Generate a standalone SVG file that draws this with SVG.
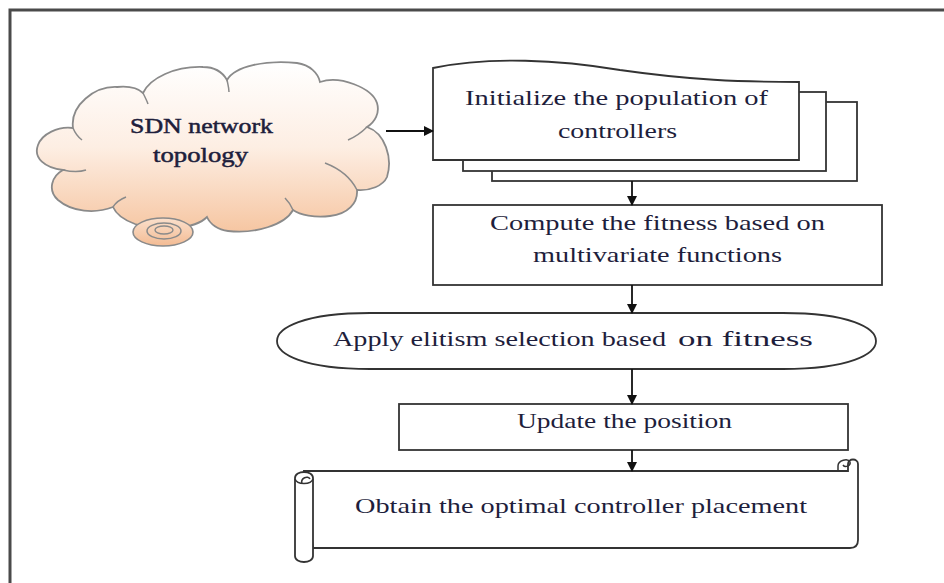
<svg xmlns="http://www.w3.org/2000/svg" width="944" height="583" viewBox="0 0 944 583">
  <defs>
    <linearGradient id="cloudGrad" x1="0" y1="0" x2="0" y2="1">
      <stop offset="0" stop-color="#ffffff"/>
      <stop offset="0.5" stop-color="#fdeee3"/>
      <stop offset="1" stop-color="#f6c6a2"/>
    </linearGradient>
    <linearGradient id="tailGrad" x1="0" y1="0" x2="0" y2="1">
      <stop offset="0" stop-color="#fbe0cc"/>
      <stop offset="1" stop-color="#f3bb93"/>
    </linearGradient>
    <marker id="arrow" markerWidth="10" markerHeight="10" refX="9" refY="5" orient="auto" markerUnits="userSpaceOnUse">
      <path d="M0,0 L10,5 L0,10 Z" fill="#111"/>
    </marker>
    <style>
      .box { fill: #ffffff; stroke: #333333; stroke-width: 1.8; }
      .cloud { fill: url(#cloudGrad); stroke: #8a8a8a; stroke-width: 1.8; }
      .inner { fill: none; stroke: #8a8a8a; stroke-width: 1.5; }
      .conn { fill: none; stroke: #111111; stroke-width: 1.8; marker-end: url(#arrow); }
      .t { font-family: "Liberation Serif", "Times New Roman", serif; font-size: 22px; fill: #1e1e3c; }
      .ct { stroke: #1e1e3c; stroke-width: 0.5; }
      .frame { fill: none; stroke: #4a4a4a; stroke-width: 3; }
    </style>
  </defs>

  <rect x="0" y="0" width="944" height="583" fill="#ffffff"/>
  <rect class="frame" x="10" y="10" width="945" height="590"/>

  <g id="cloud">
    <path class="cloud" d="M73,128 C70,105 95,86 117,87 C128,86 138,88 143,93 C150,78 175,66 203,67 C215,67 223,73 227,80 C235,66 265,60 297,63 C310,65 318,73 320,82 C340,75 372,88 377,103 C380,113 375,122 367,127 C385,133 393,158 387,177 C383,186 370,191 357,190 C358,203 348,214 330,216 C315,218 300,215 293,210 C285,225 255,234 228,231 C218,230 210,224 207,217 C195,229 160,232 135,224 C124,220 116,214 113,207 C95,214 72,212 58,200 C47,190 52,176 63,170 C45,168 33,158 38,145 C42,134 58,126 73,128 Z"/>
    <path class="inner" d="M63,170 C72,172 80,172 86,170"/>
    <path class="inner" d="M73,128 C75,133 78,137 82,140"/>
    <path class="inner" d="M143,93 C145,97 147,101 148,104"/>
    <path class="inner" d="M227,80 C228,85 229,88 229,92"/>
    <path class="inner" d="M367,127 C362,132 355,137 348,140"/>
    <path class="inner" d="M357,190 C350,176 338,168 325,163"/>
    <path class="inner" d="M293,210 C291,205 288,201 285,198"/>
    <path class="inner" d="M113,207 C116,202 121,199 126,197"/>
    <ellipse cx="163" cy="232" rx="30" ry="14" fill="url(#tailGrad)" stroke="#8a8a8a" stroke-width="1.6"/>
    <ellipse cx="164" cy="231" rx="17" ry="8" fill="none" stroke="#8a8a8a" stroke-width="1.5"/>
    <ellipse cx="164" cy="230" rx="9" ry="4" fill="none" stroke="#8a8a8a" stroke-width="1.4"/>
    <text class="t ct" x="130" y="133" textLength="143" lengthAdjust="spacingAndGlyphs" font-size="18">SDN network</text>
    <text class="t ct" x="153" y="162" textLength="95" lengthAdjust="spacingAndGlyphs" font-size="18">topology</text>
  </g>

  <g id="init">
    <rect class="box" x="492" y="102" width="365" height="79"/>
    <rect class="box" x="463" y="92" width="363" height="79"/>
    <path class="box" d="M433,68 C490,56 560,60 620,70 C690,80 740,82 799,82 L799,160 L433,160 Z"/>
    <text class="t" x="465" y="105" textLength="303" lengthAdjust="spacingAndGlyphs">Initialize the population of</text>
    <text class="t" x="558" y="138" textLength="119" lengthAdjust="spacingAndGlyphs">controllers</text>
  </g>

  <g id="fitness">
    <rect class="box" x="433" y="205" width="449" height="80"/>
    <text class="t" x="490" y="230" textLength="335" lengthAdjust="spacingAndGlyphs">Compute the fitness based  on</text>
    <text class="t" x="533" y="262" textLength="249" lengthAdjust="spacingAndGlyphs">multivariate functions</text>
  </g>

  <g id="elitism">
    <path class="box" d="M370,313 L783,313 C850,313 876,328 876,341 C876,354 850,369 783,369 L370,369 C303,369 277,354 277,341 C277,328 303,313 370,313 Z"/>
    <text class="t" x="333" y="346" textLength="333" lengthAdjust="spacingAndGlyphs">Apply elitism selection based</text>
    <text class="t" x="678" y="346" textLength="135" lengthAdjust="spacingAndGlyphs" font-size="25">on fitness</text>
  </g>

  <g id="update">
    <rect class="box" x="399" y="404" width="449" height="46"/>
    <text class="t" x="517" y="428" textLength="215" lengthAdjust="spacingAndGlyphs">Update the position</text>
  </g>

  <g id="result">
    <path class="box" d="M304,471 L848,471 L848,464 C848,458 858,458 858,464 L858,540 C858,546 854,548 850,548 L313,548 Z"/>
    <path fill="none" stroke="#333" stroke-width="1.5" d="M838,471 L838,466 C838,460 848,458 850,462 C851,466 845,468 843,465"/>
    <path class="box" d="M295,478 C295,470 313,470 313,478 L313,556 C313,564 295,564 295,556 Z"/>
    <path fill="none" stroke="#333" stroke-width="1.5" d="M295,479 C297,485 311,485 313,479 M302,484 C300,478 308,475 310,479"/>
    <text class="t" x="355" y="513" textLength="452" lengthAdjust="spacingAndGlyphs">Obtain the optimal controller placement</text>
  </g>

  <g id="connectors">
    <line class="conn" x1="386" y1="131" x2="433" y2="131"/>
    <line class="conn" x1="632" y1="181" x2="632" y2="205"/>
    <line class="conn" x1="632" y1="285" x2="632" y2="313"/>
    <line class="conn" x1="632" y1="369" x2="632" y2="404"/>
    <line class="conn" x1="632" y1="450" x2="632" y2="471"/>
  </g>
</svg>
